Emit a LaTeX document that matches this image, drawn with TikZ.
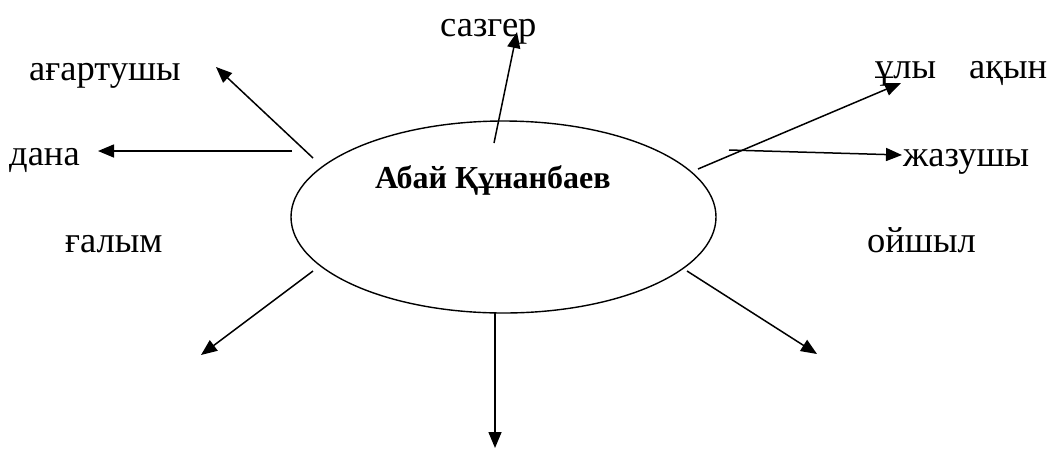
\documentclass[tikz,border=0pt]{standalone}
\usepackage{fontspec}
\setmainfont{Liberation Serif}
\usetikzlibrary{shapes.geometric,arrows.meta}
\begin{document}
\begin{tikzpicture}[x=1pt,y=-1pt,
  lbl/.style={anchor=base west,inner sep=0pt,font=\fontsize{36.5}{40}\selectfont},
  ttl/.style={anchor=base west,inner sep=0pt,font=\fontsize{32}{36}\selectfont\bfseries},
  conn/.style={line width=1.5pt,-{Triangle[length=16pt,width=13pt]}},
  oval/.style={draw,ellipse,line width=1.4pt,inner sep=0pt}]
\useasboundingbox (0,0) rectangle (1048,448);
\node[oval,minimum width=425pt,minimum height=192pt] (abai) at (503.5,217) {};
\node[ttl] (title) at (375,188) {Абай Құнанбаев};
\node[lbl] (sazger) at (440,36) {сазгер};
\node[lbl] (agartushy) at (29,80) {ағартушы};
\node[lbl] (dana) at (9,165) {дана};
\node[lbl] (galym) at (65,252) {ғалым};
\node[lbl] (uly) at (875,78) {ұлы\hspace{33pt}ақын};
\node[lbl] (zhazushy) at (903,166) {жазушы};
\node[lbl] (oishyl) at (867,252) {ойшыл};
% connector ends
\coordinate (s1) at (494,143); \coordinate (e1) at (517,32);
\coordinate (s2) at (313,158); \coordinate (e2) at (216,67);
\coordinate (s3) at (292,151); \coordinate (e3) at (98,151);
\coordinate (s4) at (698,169); \coordinate (e4) at (901,83);
\coordinate (s5) at (729,150); \coordinate (e5) at (902,155);
\coordinate (s6) at (313,271); \coordinate (e6) at (201,355);
\coordinate (s7) at (495,313); \coordinate (e7) at (495,448);
\coordinate (s8) at (687,271); \coordinate (e8) at (817,354);
\draw[conn] (s1) -- (e1);
\draw[conn] (s2) -- (e2);
\draw[conn] (s3) -- (e3);
\draw[conn] (s4) -- (e4);
\draw[conn] (s5) -- (e5);
\draw[conn] (s6) -- (e6);
\draw[conn] (s7) -- (e7);
\draw[conn] (s8) -- (e8);
\end{tikzpicture}
\end{document}
